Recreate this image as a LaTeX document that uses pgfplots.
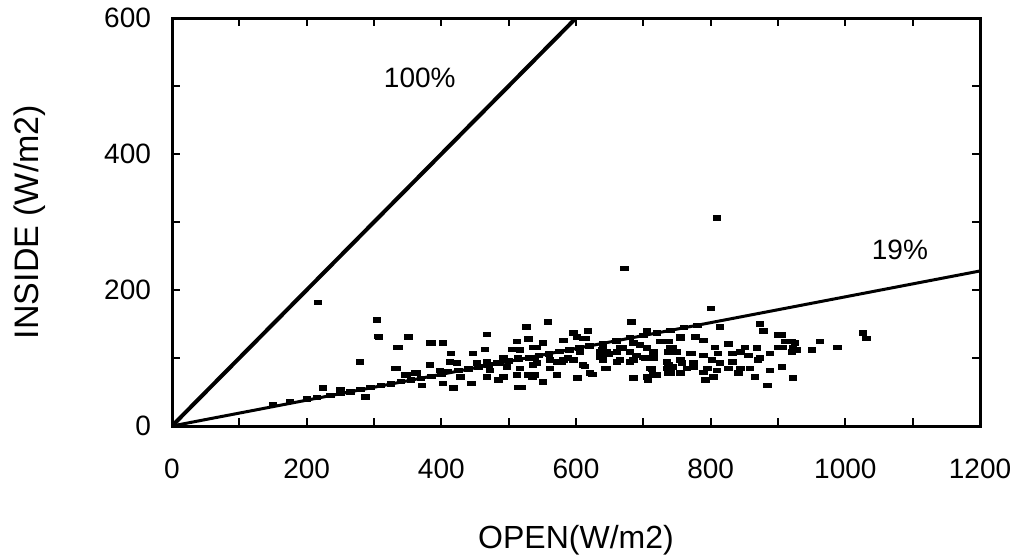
\documentclass[border=0pt]{standalone}
\usepackage{fontspec}
\setmainfont{Liberation Sans}
\usepackage{pgfplots}
\pgfplotsset{compat=1.18}

\begin{document}
\begin{tikzpicture}
\useasboundingbox (-86pt,-66.5pt) rectangle (424pt,213pt);
\begin{axis}[
    at={(0,0)}, anchor=south west,
    scale only axis, width=404pt, height=204pt,
    xmin=0, xmax=1200, ymin=0, ymax=600,
    xtick={0,100,...,1200},
    xticklabels={0,,200,,400,,600,,800,,1000,,1200},
    ytick={0,100,...,600},
    yticklabels={0,,200,,400,,600},
    tick align=inside, major tick length=4pt,
    axis line style={line width=1.5pt},
    tick style={line width=1pt, black},
    ticklabel style={font=\fontsize{14}{14}\selectfont},
    xticklabel style={yshift=-13pt},
    yticklabel style={xshift=-7pt},
    xlabel={OPEN(W/m2)},
    ylabel={INSIDE (W/m2)},
    xlabel style={font=\fontsize{16}{16}\selectfont, at={(axis description cs:0.5,-0.279)}, anchor=center},
    ylabel style={font=\fontsize{17}{17}\selectfont, at={(axis description cs:-0.176,0.5)}, anchor=center},
  ]
  % 100% and 19% lines
  \addplot [black, line width=2pt] coordinates {(0,0) (600,600)};
  \addplot [black, line width=1.5pt] coordinates {(0,0) (1200,228)};

  % measured points
  \addplot [only marks, mark=square*, mark size=1.1pt, mark options={xscale=1.7, black}] coordinates {
    (217,182) (304,156) (307,131) (351,131) (336,116) (383,122) (279,94) (333,85)
    (349,75) (364,78) (371,60) (287,43) (224,56)
    (526,146) (468,135) (385,122) (402,122) (414,107) (447,107) (465,113) (512,124)
    (529,128) (542,116) (505,113) (517,112)
    (383,90) (413,94) (423,93) (453,93) (402,63) (418,56) (445,63) (468,72) (485,68)
    (492,72) (514,57) (512,75) (529,75) (428,72) (398,82) (346,75) (361,78) (536,90)
    (483,93) (497,87) (468,94)
    (558,153) (682,153) (596,137) (618,140) (611,129) (581,126) (551,122) (639,112)
    (646,109) (661,109) (670,115) (685,122) (695,119) (705,115) (715,109) (725,124)
    (740,116) (750,109) (770,107) (755,129)
    (636,101) (665,97) (685,97) (700,101) (715,100) (735,94) (755,97) (774,93)
    (646,85) (613,88) (710,85) (744,87) (765,85) (685,71) (705,72) (715,75) (740,78)
    (755,78) (601,71) (624,76) (572,75) (551,65) (520,57) (535,72) (581,97) (561,85)
    (542,93) (517,85) (514,100) (539,101) (572,94) (588,100) (606,109) (492,100) (472,82)
    (800,173) (809,306) (672,232)
    (873,150) (878,140) (814,146) (900,134) (910,124) (921,124) (900,116) (922,115)
    (888,107) (869,115) (851,116) (826,121) (806,116) (789,126) (777,131) (755,131)
    (730,124) (743,116) (772,107) (789,104) (811,107) (832,107) (844,109) (856,104)
    (873,100) (870,97) (802,97) (814,93) (832,94) (737,90) (757,93) (774,87) (795,85)
    (809,82) (826,85) (844,85) (858,85) (888,82) (906,87) (737,78) (789,79) (841,78)
    (866,72) (804,72) (792,68) (922,71) (884,60)
    (1026,137) (1031,129) (962,124) (988,116) (950,112) (925,122) (928,112) (915,124)
    (907,116) (921,109) (906,134)
    (306,132) (334,116) (331,85) (250,53)
    (601,131) (614,129) (536,116) (737,109) (703,100) (680,94) (661,94) (640,97)
    (636,109) (648,106) (665,115) (680,109) (690,104) (643,85) (610,90) (596,97)
    (579,94) (561,97) (539,75) (603,71) (621,78) (707,68) (720,75) (713,84) (735,85)
    (737,124) (705,141)
    (150,32) (175,36) (200,40) (215,42) (235,45) (250,48) (265,50) (280,54) (295,57)
    (310,60) (325,62) (340,66) (355,68) (370,70) (385,73) (400,76) (410,80) (425,82)
    (440,84) (455,87) (470,90) (485,92) (500,96) (515,98) (530,100) (545,104) (560,106)
    (575,110) (590,112) (605,115) (620,118) (640,121) (660,125) (680,130) (700,133)
    (720,137) (740,141) (760,145) (780,148)
  };

  \node [font=\fontsize{14}{14}\selectfont] at (axis cs:368,512) {100\%};
  \node [font=\fontsize{14}{14}\selectfont] at (axis cs:1081,259) {19\%};
\end{axis}
\end{tikzpicture}
\end{document}
